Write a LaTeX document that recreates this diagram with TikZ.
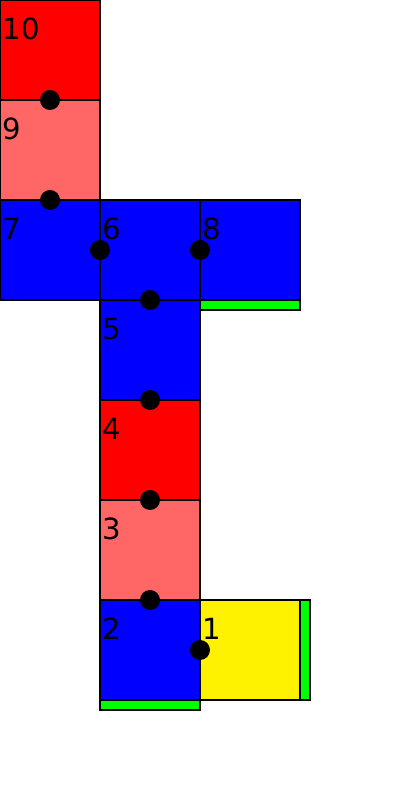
\documentclass[tikz,border=0pt]{standalone}
\usepackage{fontspec}
\setmainfont{DejaVu Sans}
\usetikzlibrary{positioning}
\definecolor{lightred}{HTML}{FF6666}
\tikzset{
  node distance=0cm,
  lbl/.style={anchor=base west, inner sep=0pt, xshift=0.02cm, yshift=-0.40cm,
    font=\fontsize{8.3}{10}\selectfont},
}

\begin{document}
\begin{tikzpicture}[line width=0.3pt, sq/.style = {draw, minimum
      size=1cm, inner sep=0pt, outer sep=0pt, label={[lbl]north west:#1}},
      bar/.style = {draw, fill=green, inner sep=0pt, outer sep=0pt},
      dot/.style = {circle, fill=black, minimum size=0.2cm, inner sep=0pt}]

      \useasboundingbox (0,0) rectangle (4,8);

      % --- Squares ---
      \node[sq=6, fill=blue] (s6) at (1.5,5.5) {};
      \node[sq=7, fill=blue, left=of s6] (s7) {};
      \node[sq=8, fill=blue, right=of s6] (s8) {};
      \node[sq=9, fill=lightred, above=of s7] (s9) {};
      \node[sq=10, fill=red, above=of s9] (s10) {};
      \node[sq=5, fill=blue, below=of s6] (s5) {};
      \node[sq=4, fill=red, below=of s5] (s4) {};
      \node[sq=3, fill=lightred, below=of s4] (s3) {};
      \node[sq=2, fill=blue, below=of s3] (s2) {};
      \node[sq=1, fill=yellow, right=of s2] (s1) {};

      % --- Green bars ---
      \node[bar, minimum width=1cm, minimum height=0.1cm, below=of s8] (b8) {};
      \node[bar, minimum width=1cm, minimum height=0.1cm, below=of s2] (b2) {};
      \node[bar, minimum width=0.1cm, minimum height=1cm, right=of s1] (b1) {};

      % --- Dots ---
      \node[dot] (d10) at (s10.south) {};
      \node[dot] (d9) at (s9.south) {};
      \node[dot] (d7) at (s6.west) {};
      \node[dot] (d8) at (s6.east) {};
      \node[dot] (d6) at (s6.south) {};
      \node[dot] (d5) at (s5.south) {};
      \node[dot] (d4) at (s4.south) {};
      \node[dot] (d3) at (s3.south) {};
      \node[dot] (d1) at (s1.west) {};

    \end{tikzpicture}
\end{document}
